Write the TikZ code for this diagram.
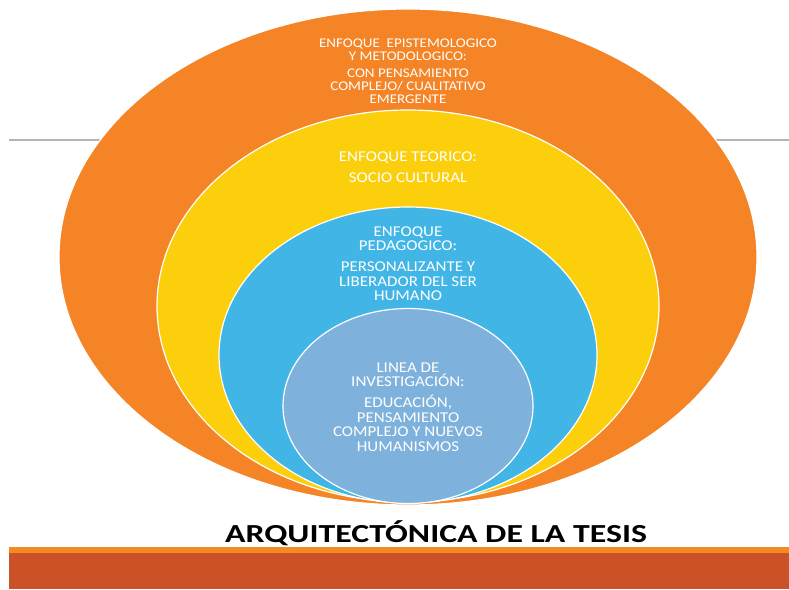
\documentclass[tikz,border=0pt]{standalone}
\usepackage{fontspec}
\setmainfont{Carlito}[FakeStretch=1.13]
\newfontfamily\titlefont{Carlito}[FakeStretch=1.3]
\usepackage{tikz}

\definecolor{epistorange}{HTML}{F58426}
\definecolor{teoyellow}{HTML}{FCCF0D}
\definecolor{pedblue}{HTML}{41B6E6}
\definecolor{linblue}{HTML}{7EB2DC}
\definecolor{bardark}{HTML}{CB5226}
\definecolor{barorange}{HTML}{F58A22}
\definecolor{rulegray}{HTML}{B4B4B4}

\tikzset{
	ring/.style={draw=white,line width=1.2pt},
	ringtext/.style={text=white,align=center,inner sep=0pt},
}

\begin{document}
\begin{tikzpicture}[x=1pt,y=-1pt]
						\useasboundingbox (0,0) rectangle (789,589);
						\draw[rulegray,line width=1.3pt] (9,140) -- (789,140);
						% rings, outside to inside
						\filldraw[ring,fill=epistorange] (408,257) ellipse [x radius=349,y radius=248];
						\filldraw[ring,fill=teoyellow] (408,306) ellipse [x radius=251,y radius=196];
						\filldraw[ring,fill=pedblue] (408,355) ellipse [x radius=189,y radius=148];
						\filldraw[ring,fill=linblue] (408,406) ellipse [x radius=125,y radius=97.5];
						\node[ringtext,font=\fontsize{13.3}{13}\selectfont] (epist) at (408,71) {%
							ENFOQUE\ \ EPISTEMOLOGICO\\ Y METODOLOGICO:\\[4pt]
							CON PENSAMIENTO\\ COMPLEJO/ CUALITATIVO\\ EMERGENTE};
						\node[ringtext,font=\fontsize{15}{15}\selectfont] (teor) at (408,167.5) {%
							ENFOQUE TEORICO:\\[6pt] SOCIO CULTURAL};
						\node[ringtext,font=\fontsize{15}{14.5}\selectfont] (pedag) at (408,263.5) {%
							ENFOQUE\\ PEDAGOGICO:\\[6.5pt]
							PERSONALIZANTE Y\\ LIBERADOR DEL SER\\ HUMANO};
						\node[ringtext,font=\fontsize{15}{14.5}\selectfont] (linea) at (408,407) {%
							LINEA DE\\ INVESTIGACIÓN:\\[6.5pt]
							EDUCACIÓN,\\ PENSAMIENTO\\ COMPLEJO Y NUEVOS\\ HUMANISMOS};
						% title and bottom band
						\node[anchor=base,inner sep=0pt,font=\titlefont\fontsize{26}{26}\selectfont\bfseries] (title) at (436,542) {ARQUITECTÓNICA DE LA TESIS};
						\fill[barorange] (9,547) rectangle (789,553);
						\fill[bardark] (9,553) rectangle (789,589);
					\end{tikzpicture}
\end{document}
